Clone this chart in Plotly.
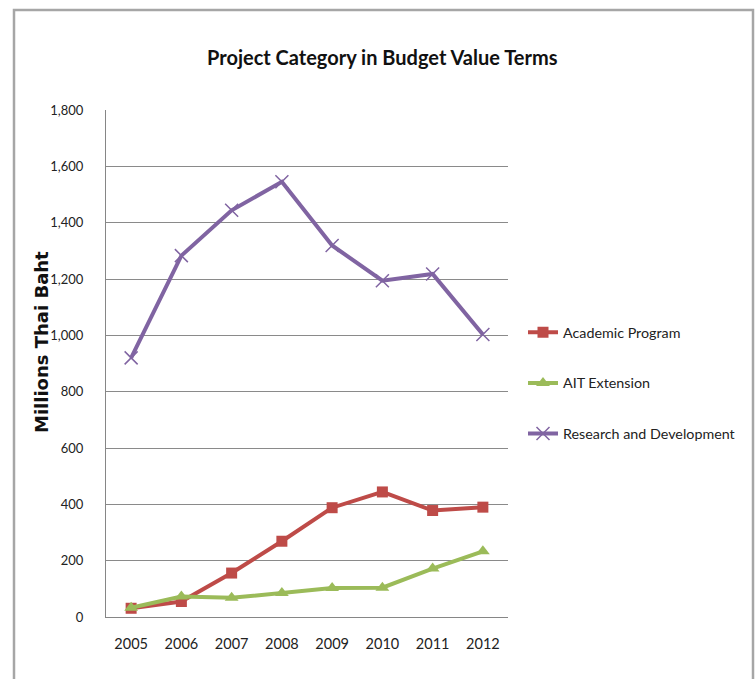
import plotly.graph_objects as go

years = ["2005", "2006", "2007", "2008", "2009", "2010", "2011", "2012"]
academic = [31, 55, 156, 269, 388, 444, 378, 390]
ait_ext = [33, 73, 68, 85, 103, 104, 172, 233]
research = [920, 1283, 1444, 1545, 1319, 1194, 1218, 1003]
y_ticks = [0, 200, 400, 600, 800, 1000, 1200, 1400, 1600, 1800]
y_tick_labels = ["0", "200", "400", "600", "800", "1,000", "1,200", "1,400", "1,600", "1,800"]

FONT = "Lato, Carlito, Calibri, sans-serif"

fig = go.Figure()
fig.add_trace(go.Scatter(
    x=years, y=academic, name="Academic Program", mode="lines+markers",
    line=dict(color="#BE4B48", width=4),
    marker=dict(symbol="square", size=11, color="#BE4B48"),
    legendgroup="a"))
fig.add_trace(go.Scatter(
    x=years, y=ait_ext, name="AIT Extension", mode="lines+markers",
    line=dict(color="#9BBB59", width=4),
    marker=dict(symbol="triangle-up", size=12, color="#9BBB59"),
    legendgroup="b"))
fig.add_trace(go.Scatter(
    x=years, y=research, name="Research and Development", mode="lines+markers",
    line=dict(color="#8064A2", width=4),
    marker=dict(symbol="x-thin", size=13, line=dict(width=1.5, color="#8064A2"), color="#8064A2"),
    legendgroup="c"))

L, R, T, B = 106, 508, 110, 617
W, H = 756, 679
pw, ph = R - L, B - T

def px_x(v):
    return (v - L) / pw

def px_y(v):
    return (B - v) / ph

fig.update_layout(
    width=W, height=H,
    margin=dict(l=L, r=W - R, t=T, b=H - B, pad=0, autoexpand=False),
    paper_bgcolor="white", plot_bgcolor="white",
    font=dict(family=FONT, color="#222222", size=14),
    showlegend=True,
    legend=dict(
        x=px_x(523), y=px_y(383), xanchor="left", yanchor="middle",
        font=dict(family=FONT, size=14.3, color="#222222"),
        tracegroupgap=29, itemwidth=30, bgcolor="rgba(0,0,0,0)",
        traceorder="grouped"),
    xaxis=dict(
        type="category", range=[-0.5, 7.5], showgrid=False,
        showline=True, linecolor="#868686", linewidth=1,
        ticks="", ticklabelstandoff=14,
        tickfont=dict(family=FONT, size=14.5, color="#222222"),
        zeroline=False, fixedrange=True),
    yaxis=dict(
        range=[0, 1800], tickvals=y_ticks, ticktext=y_tick_labels,
        showgrid=True, gridcolor="#8A8A8A", gridwidth=1,
        showline=True, linecolor="#868686", linewidth=1,
        ticks="", ticklabelstandoff=19,
        tickfont=dict(family=FONT, size=13, color="#222222"),
        zeroline=False, fixedrange=True),
    annotations=[
        dict(text="<b>Project Category in Budget Value Terms</b>",
             xref="paper", yref="paper", x=px_x(382), y=px_y(57),
             xanchor="center", yanchor="middle", showarrow=False,
             font=dict(family=FONT, size=20, color="#111111")),
        dict(text="<b>Millions Thai Baht</b>",
             xref="paper", yref="paper", x=px_x(41), y=px_y(342),
             xanchor="center", yanchor="middle", showarrow=False, textangle=-90,
             font=dict(family="DejaVu Sans, Arial Black, sans-serif", size=18, color="#111111")),
    ],
    shapes=[
        dict(type="rect", xref="paper", yref="paper",
             x0=px_x(14), x1=px_x(753), y0=px_y(700), y1=px_y(10),
             line=dict(color="#A6A6A6", width=2.5), fillcolor="rgba(0,0,0,0)", layer="below"),
    ],
)

fig.write_html("out.html", config={"displayModeBar": False},
               post_script="document.body.style.margin='0';")
